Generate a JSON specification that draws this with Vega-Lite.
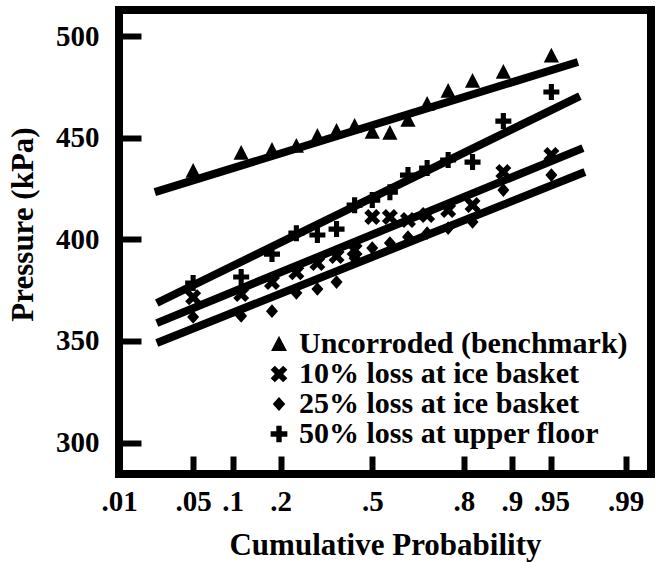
{
  "$schema": "https://vega.github.io/schema/vega-lite/v6.json",
  "width": 532,
  "height": 464,
  "autosize": {"type": "none"},
  "padding": {"left": 119, "top": 10, "right": 17, "bottom": 88},
  "background": "white",
  "config": {
    "view": {"stroke": "black", "strokeWidth": 8},
    "font": "Liberation Serif",
    "axis": {
      "grid": false, "domain": false, "tickColor": "black", "tickWidth": 6,
      "labelFont": "Liberation Serif", "labelFontWeight": "bold", "labelFontSize": 29, "labelColor": "black",
      "titleFont": "Liberation Serif", "titleFontWeight": "bold", "titleFontSize": 31, "titleColor": "black"
    },
    "legend": {
      "labelFont": "Liberation Serif", "labelFontWeight": "bold", "labelFontSize": 30, "labelColor": "black", "labelLimit": 0,
      "padding": 0, "rowPadding": -2, "labelOffset": 5, "symbolSize": 280,
      "symbolFillColor": "black", "symbolStrokeWidth": 0, "symbolOpacity": 1
    }
  },
  "encoding": {
    "x": {
      "field": "z", "type": "quantitative",
      "scale": {"domain": [-2.326, 2.56], "nice": false, "zero": false},
      "axis": {
        "values": [-2.326, -1.645, -1.2816, -0.8416, 0, 0.8416, 1.2816, 1.645, 2.326],
        "labelExpr": "datum.value < -2 ? '.01' : datum.value < -1.5 ? '.05' : datum.value < -1 ? '.1' : datum.value < -0.5 ? '.2' : datum.value < 0.5 ? '.5' : datum.value < 1 ? '.8' : datum.value < 1.5 ? '.9' : datum.value < 2 ? '.95' : '.99'",
        "labelFlush": false, "labelOverlap": false,
        "tickSize": -18, "labelPadding": 31, "title": "Cumulative Probability", "titlePadding": 14
      }
    },
    "y": {
      "field": "pressure", "type": "quantitative",
      "scale": {"domain": [284.5, 513], "nice": false, "zero": false},
      "axis": {
        "values": [300, 350, 400, 450, 500],
        "tickSize": -22, "labelPadding": 42, "title": "Pressure (kPa)", "titlePadding": 16, "titleY": 214
      }
    }
  },
  "layer": [
    {
      "data": {"values": [
        {"series": "Uncorroded (benchmark)", "z": -1.997, "pressure": 423.3},
        {"series": "Uncorroded (benchmark)", "z": 1.889, "pressure": 487.4},
        {"series": "50% loss at upper floor", "z": -1.979, "pressure": 368.7},
        {"series": "50% loss at upper floor", "z": 1.907, "pressure": 470.6},
        {"series": "10% loss at ice basket", "z": -1.979, "pressure": 358.8},
        {"series": "10% loss at ice basket", "z": 1.935, "pressure": 445.0},
        {"series": "25% loss at ice basket", "z": -1.979, "pressure": 349.0},
        {"series": "25% loss at ice basket", "z": 1.953, "pressure": 433.2}
      ]},
      "mark": {"type": "line", "color": "black", "strokeWidth": 8, "strokeCap": "butt"},
      "encoding": {"detail": {"field": "series"}}
    },
    {
      "data": {"values": [
        {"series": "Uncorroded (benchmark)", "z": -1.645, "pressure": 433.7},
        {"series": "Uncorroded (benchmark)", "z": -1.204, "pressure": 442.6},
        {"series": "Uncorroded (benchmark)", "z": -0.921, "pressure": 444.0},
        {"series": "Uncorroded (benchmark)", "z": -0.697, "pressure": 446.0},
        {"series": "Uncorroded (benchmark)", "z": -0.504, "pressure": 450.9},
        {"series": "Uncorroded (benchmark)", "z": -0.328, "pressure": 453.4},
        {"series": "Uncorroded (benchmark)", "z": -0.162, "pressure": 455.9},
        {"series": "Uncorroded (benchmark)", "z": 0, "pressure": 452.9},
        {"series": "Uncorroded (benchmark)", "z": 0.162, "pressure": 452.4},
        {"series": "Uncorroded (benchmark)", "z": 0.328, "pressure": 458.8},
        {"series": "Uncorroded (benchmark)", "z": 0.504, "pressure": 466.7},
        {"series": "Uncorroded (benchmark)", "z": 0.697, "pressure": 473.1},
        {"series": "Uncorroded (benchmark)", "z": 0.921, "pressure": 478.0},
        {"series": "Uncorroded (benchmark)", "z": 1.204, "pressure": 482.5},
        {"series": "Uncorroded (benchmark)", "z": 1.645, "pressure": 490.5},
        {"series": "10% loss at ice basket", "z": -1.645, "pressure": 371.6},
        {"series": "10% loss at ice basket", "z": -1.204, "pressure": 373.1},
        {"series": "10% loss at ice basket", "z": -0.921, "pressure": 379.0},
        {"series": "10% loss at ice basket", "z": -0.697, "pressure": 383.9},
        {"series": "10% loss at ice basket", "z": -0.504, "pressure": 388.4},
        {"series": "10% loss at ice basket", "z": -0.328, "pressure": 391.8},
        {"series": "10% loss at ice basket", "z": -0.162, "pressure": 394.8},
        {"series": "10% loss at ice basket", "z": 0, "pressure": 411.0},
        {"series": "10% loss at ice basket", "z": 0.162, "pressure": 411.0},
        {"series": "10% loss at ice basket", "z": 0.328, "pressure": 409.6},
        {"series": "10% loss at ice basket", "z": 0.504, "pressure": 412.0},
        {"series": "10% loss at ice basket", "z": 0.697, "pressure": 414.5},
        {"series": "10% loss at ice basket", "z": 0.921, "pressure": 417.0},
        {"series": "10% loss at ice basket", "z": 1.204, "pressure": 433.2},
        {"series": "10% loss at ice basket", "z": 1.645, "pressure": 441.6},
        {"series": "25% loss at ice basket", "z": -1.645, "pressure": 361.8},
        {"series": "25% loss at ice basket", "z": -1.204, "pressure": 362.3},
        {"series": "25% loss at ice basket", "z": -0.921, "pressure": 364.7},
        {"series": "25% loss at ice basket", "z": -0.697, "pressure": 373.6},
        {"series": "25% loss at ice basket", "z": -0.504, "pressure": 375.6},
        {"series": "25% loss at ice basket", "z": -0.328, "pressure": 379.0},
        {"series": "25% loss at ice basket", "z": -0.162, "pressure": 390.8},
        {"series": "25% loss at ice basket", "z": 0, "pressure": 395.8},
        {"series": "25% loss at ice basket", "z": 0.162, "pressure": 398.2},
        {"series": "25% loss at ice basket", "z": 0.328, "pressure": 401.2},
        {"series": "25% loss at ice basket", "z": 0.504, "pressure": 403.1},
        {"series": "25% loss at ice basket", "z": 0.697, "pressure": 405.6},
        {"series": "25% loss at ice basket", "z": 0.921, "pressure": 408.6},
        {"series": "25% loss at ice basket", "z": 1.204, "pressure": 424.3},
        {"series": "25% loss at ice basket", "z": 1.645, "pressure": 431.7},
        {"series": "50% loss at upper floor", "z": -1.645, "pressure": 378.5},
        {"series": "50% loss at upper floor", "z": -1.204, "pressure": 381.5},
        {"series": "50% loss at upper floor", "z": -0.921, "pressure": 392.8},
        {"series": "50% loss at upper floor", "z": -0.697, "pressure": 403.1},
        {"series": "50% loss at upper floor", "z": -0.504, "pressure": 402.2},
        {"series": "50% loss at upper floor", "z": -0.328, "pressure": 405.1},
        {"series": "50% loss at upper floor", "z": -0.162, "pressure": 416.9},
        {"series": "50% loss at upper floor", "z": 0, "pressure": 419.4},
        {"series": "50% loss at upper floor", "z": 0.162, "pressure": 423.3},
        {"series": "50% loss at upper floor", "z": 0.328, "pressure": 431.7},
        {"series": "50% loss at upper floor", "z": 0.504, "pressure": 435.2},
        {"series": "50% loss at upper floor", "z": 0.697, "pressure": 439.1},
        {"series": "50% loss at upper floor", "z": 0.921, "pressure": 438.1},
        {"series": "50% loss at upper floor", "z": 1.204, "pressure": 458.3},
        {"series": "50% loss at upper floor", "z": 1.645, "pressure": 472.6}
      ]},
      "mark": {"type": "point", "filled": true, "color": "black", "opacity": 1, "size": 256},
      "encoding": {
        "shape": {
          "field": "series", "type": "nominal",
          "scale": {
            "domain": ["Uncorroded (benchmark)", "10% loss at ice basket", "25% loss at ice basket", "50% loss at upper floor"],
            "range": [
              "M0,-1L0.95,0.85L-0.95,0.85Z",
              "M-1,-0.5L-0.5,-1L0,-0.5L0.5,-1L1,-0.5L0.5,0L1,0.5L0.5,1L0,0.5L-0.5,1L-1,0.5L-0.5,0Z",
              "M0,-0.85L0.75,0L0,0.85L-0.75,0Z",
              "M-0.32,-1L0.32,-1L0.32,-0.32L1,-0.32L1,0.32L0.32,0.32L0.32,1L-0.32,1L-0.32,0.32L-1,0.32L-1,-0.32L-0.32,-0.32Z"
            ]
          },
          "legend": {"title": null, "orient": "none", "legendX": 145, "legendY": 319}
        }
      }
    }
  ]
}
